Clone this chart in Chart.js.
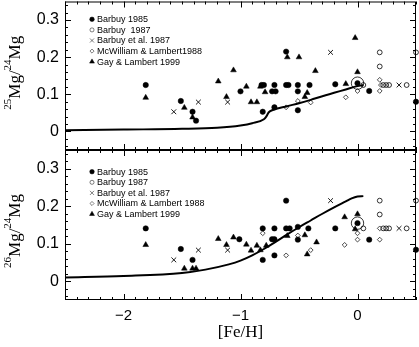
<!DOCTYPE html>
<html>
<head>
<meta charset="utf-8">
<script src="https://cdn.jsdelivr.net/npm/chart.js@4.4.1/dist/chart.umd.min.js"></script>
<style>
  html, body { margin: 0; padding: 0; background: #fff; }
  #wrap { position: relative; width: 419px; height: 347px; overflow: hidden; }
  #wrap canvas { position: absolute; left: 0; }
  #c25 { top: 0; }
  #c26 { top: 148px; }
</style>
</head>
<body>
<div id="wrap">
  <canvas id="c25" width="419" height="152"></canvas>
  <canvas id="c26" width="419" height="199"></canvas>
</div>
<script>
// x ticks ([Fe/H]) and y ticks (ratio)
const feTicks = [-2, -1, 0];
const ratioTicks = [0, 0.1, 0.2, 0.3];

// ---- top panel: 25Mg/24Mg ----
const b85Fe25 = [-1.81, -1.51, -1.41, -1.38, -1.00, -0.82, -0.80, -0.81, -0.73, -0.71, -0.70, -0.71, -0.61, -0.59, -0.61, -0.51, -0.51, -0.51, -0.41, -0.19, 0.10, 0.50];
const b85R25  = [0.125, 0.082, 0.053, 0.029, 0.108, 0.125, 0.125, 0.053, 0.108, 0.125, 0.108, 0.065, 0.125, 0.125, 0.215, 0.125, 0.108, 0.057, 0.125, 0.127, 0.109, 0.080];
const b87Fe25 = [0.05, 0.19, 0.19, 0.22, 0.245, 0.27, 0.42, 0.50];
const b87R25  = [0.125, 0.213, 0.175, 0.125, 0.125, 0.125, 0.125, 0.213];
const bx87Fe25 = [-1.57, -1.36, -1.11, -0.23, 0.355];
const bx87R25  = [0.053, 0.079, 0.079, 0.213, 0.125];
const mwFe25 = [-0.61, -0.51, -0.40, -0.10, 0.0, 0.19, 0.19, 0.20];
const mwR25  = [0.065, 0.082, 0.078, 0.092, 0.109, 0.109, 0.139, 0.125];
const glFe25 = [-1.81, -1.48, -1.41, -1.19, -1.12, -1.06, -0.95, -0.91, -0.86, -0.83, -0.79, -0.60, -0.50, -0.45, -0.43, -0.36, -0.10, -0.02, 0.0];
const glR25  = [0.091, 0.064, 0.038, 0.135, 0.093, 0.165, 0.121, 0.079, 0.079, 0.121, 0.106, 0.200, 0.200, 0.093, 0.104, 0.163, 0.128, 0.252, 0.160];
const modelFe25 = [-2.5, -2.0, -1.5, -1.2, -1.0, -0.9, -0.8, -0.78, -0.76, -0.73, -0.6, -0.5, -0.4, -0.3, -0.2, -0.1, 0.0, 0.05];
const model25   = [0.003, 0.005, 0.007, 0.010, 0.016, 0.022, 0.033, 0.040, 0.051, 0.057, 0.068, 0.076, 0.085, 0.095, 0.104, 0.113, 0.122, 0.125];

// ---- bottom panel: 26Mg/24Mg ----
const b85Fe26 = [-1.81, -1.51, -1.41, -1.01, -0.81, -0.81, -0.73, -0.71, -0.71, -0.71, -0.61, -0.61, -0.58, -0.51, -0.51, -0.42, -0.19, 0.10, 0.50];
const b85R26  = [0.141, 0.086, 0.057, 0.112, 0.141, 0.057, 0.112, 0.112, 0.141, 0.069, 0.215, 0.141, 0.141, 0.145, 0.111, 0.141, 0.141, 0.111, 0.084];
const b87Fe26 = [0.05, 0.19, 0.19, 0.22, 0.245, 0.27, 0.42, 0.50];
const b87R26  = [0.141, 0.215, 0.178, 0.141, 0.141, 0.141, 0.141, 0.215];
const bx87Fe26 = [-1.57, -1.36, -1.11, -0.23, 0.355];
const bx87R26  = [0.057, 0.083, 0.083, 0.215, 0.141];
const mwFe26 = [-0.81, -0.61, -0.51, -0.40, -0.11, 0.0, 0.0, 0.19, 0.19];
const mwR26  = [0.128, 0.069, 0.122, 0.083, 0.097, 0.128, 0.111, 0.111, 0.141];
const glFe26 = [-1.81, -1.48, -1.41, -1.38, -1.19, -1.12, -1.06, -0.95, -0.91, -0.86, -0.83, -0.78, -0.60, -0.45, -0.43, -0.35, -0.11, -0.02, 0.0];
const glR26  = [0.097, 0.034, 0.034, 0.034, 0.113, 0.097, 0.117, 0.098, 0.082, 0.095, 0.083, 0.095, 0.121, 0.123, 0.072, 0.104, 0.171, 0.139, 0.179];
const modelFe26 = [-2.5, -2.0, -1.5, -1.3, -1.1, -1.0, -0.9, -0.8, -0.7, -0.6, -0.5, -0.4, -0.3, -0.2, -0.1, -0.05, 0.0, 0.05];
const model26   = [0.010, 0.014, 0.022, 0.031, 0.045, 0.055, 0.069, 0.086, 0.105, 0.125, 0.144, 0.162, 0.180, 0.197, 0.213, 0.221, 0.226, 0.227];

// the Sun
const sunFe = [0.0];
const sunR25 = [0.13];
const sunR26 = [0.155];

Chart.defaults.font.family = '"Liberation Sans", Arial, sans-serif';
Chart.defaults.color = '#000';

const pts = (xs, ys) => xs.map((x, i) => ({ x, y: ys[i] }));

const styles = {
  b85: { pointStyle: 'circle', pointRadius: 2.7, pointBackgroundColor: '#000', pointBorderColor: '#000', pointBorderWidth: 0.5 },
  b87: { pointStyle: 'circle', pointRadius: 2.4, pointBackgroundColor: 'rgba(0,0,0,0)', pointBorderColor: '#000', pointBorderWidth: 0.8 },
  bx87: { pointStyle: 'crossRot', pointRadius: 3.4, pointBorderColor: '#000', pointBorderWidth: 0.9 },
  mw: { pointStyle: 'rectRot', pointRadius: 2.4, pointBackgroundColor: 'rgba(0,0,0,0)', pointBorderColor: '#000', pointBorderWidth: 0.7 },
  gl: { pointStyle: 'triangle', pointRadius: 3.3, pointBackgroundColor: '#000', pointBorderColor: '#000', pointBorderWidth: 0.5 }
};

// box + inward ticks on all four sides
const frame = {
  id: 'frame',
  afterDraw(chart) {
    const { ctx, chartArea: a, scales: { x, y } } = chart;
    ctx.save();
    ctx.strokeStyle = '#000';
    ctx.lineWidth = 1;
    ctx.strokeRect(a.left + 0.5, a.top + 0.5, a.right - a.left - 1, a.bottom - a.top - 1);
    ctx.beginPath();
    for (let i = -25; i <= 5; i++) {
      const px = Math.round(x.getPixelForValue(i / 10)) + 0.5;
      const len = i % 10 === 0 ? 6 : 3;
      ctx.moveTo(px, a.bottom); ctx.lineTo(px, a.bottom - len);
      ctx.moveTo(px, a.top); ctx.lineTo(px, a.top + len);
    }
    for (let i = -2; i <= 17; i++) {
      const py = Math.round(y.getPixelForValue(i * 0.02)) + 0.5;
      const len = i % 5 === 0 ? 6 : 3;
      ctx.moveTo(a.left, py); ctx.lineTo(a.left + len, py);
      ctx.moveTo(a.right, py); ctx.lineTo(a.right - len, py);
    }
    ctx.stroke();
    ctx.restore();
  }
};

// legend inside the plot, top-left
const inLegend = {
  id: 'inLegend',
  afterDraw(chart, args, o) {
    const { ctx, chartArea: a } = chart;
    ctx.save();
    ctx.font = '9px "Liberation Sans", Arial, sans-serif';
    ctx.textBaseline = 'middle';
    ctx.fillStyle = '#000';
    let row = 0;
    chart.data.datasets.forEach(ds => {
      if (!ds.inLegend) return;
      const yy = a.top + o.top + row * o.step;
      const mx = a.left + o.mx;
      ctx.strokeStyle = '#000';
      ctx.fillStyle = ds.pointBackgroundColor || '#000';
      Chart.helpers.drawPoint(ctx, {
        pointStyle: ds.pointStyle, radius: ds.pointRadius * 0.85, rotation: 0, borderWidth: ds.pointBorderWidth
      }, mx, yy);
      ctx.fillStyle = '#000';
      ctx.fillText(ds.label, a.left + o.tx, yy + 0.5);
      row++;
    });
    ctx.restore();
  }
};

// rotated y title with superscript mass numbers
const yTitle = {
  id: 'yTitle',
  afterDraw(chart, args, o) {
    const { ctx, chartArea: a } = chart;
    const parts = [[o.iso, true], ['Mg', false], ['/', false], ['24', true], ['Mg', false]];
    const big = '17px "Liberation Serif", "Times New Roman", serif';
    const small = '11px "Liberation Serif", "Times New Roman", serif';
    ctx.save();
    let w = 0;
    parts.forEach(([t, sup]) => { ctx.font = sup ? small : big; w += ctx.measureText(t).width; });
    ctx.translate(15, (a.top + a.bottom) / 2 + o.dy);
    ctx.rotate(-Math.PI / 2);
    ctx.fillStyle = '#000';
    ctx.textBaseline = 'alphabetic';
    let cx = -w / 2;
    parts.forEach(([t, sup]) => {
      ctx.font = sup ? small : big;
      ctx.fillText(t, cx, sup ? -4 : 5);
      cx += ctx.measureText(t).width;
    });
    ctx.restore();
  }
};

function makeChart(id, d, opts) {
  const datasets = [
    { label: 'Barbuy 1985', data: pts(d.b85[0], d.b85[1]), inLegend: true, ...styles.b85 },
    { label: d.b87lab, data: pts(d.b87[0], d.b87[1]), inLegend: true, ...styles.b87 },
    { label: 'Barbuy et al. 1987', data: pts(d.bx87[0], d.bx87[1]), inLegend: true, ...styles.bx87 },
    { label: d.mwlab, data: pts(d.mw[0], d.mw[1]), inLegend: true, ...styles.mw },
    { label: 'Gay & Lambert 1999', data: pts(d.gl[0], d.gl[1]), inLegend: true, ...styles.gl },
    { label: 'Sun', data: pts(sunFe, d.sun), pointStyle: 'circle', pointRadius: 6.2, pointBackgroundColor: 'rgba(0,0,0,0)', pointBorderColor: '#000', pointBorderWidth: 0.8 },
    { label: 'Sun dot', data: pts(sunFe, d.sun), ...styles.b85 },
    { label: 'model', type: 'line', data: pts(d.model[0], d.model[1]), showLine: true, borderColor: '#000', borderWidth: 2,
      pointRadius: 0, cubicInterpolationMode: 'monotone', fill: false }
  ];
  return new Chart(document.getElementById(id), {
    type: 'scatter',
    data: { datasets },
    options: {
      responsive: false,
      animation: false,
      devicePixelRatio: 1,
      events: [],
      clip: false,
      layout: { padding: opts.padding, autoPadding: false },
      plugins: {
        legend: { display: false },
        tooltip: { enabled: false },
        inLegend: { top: opts.legTop, step: 10.6, mx: 27, tx: 32 },
        yTitle: { iso: d.iso, dy: opts.titleDy }
      },
      scales: {
        x: {
          type: 'linear', min: -2.5, max: 0.5,
          display: opts.showX,
          afterBuildTicks: s => { s.ticks = feTicks.map(v => ({ value: v })); },
          afterFit: s => { s.height = opts.xHeight; s.paddingLeft = 0; s.paddingRight = 0; },
          grid: { display: false, drawTicks: false },
          border: { display: false },
          ticks: {
            padding: 7,
            font: { size: 15 },
            callback: v => (v < 0 ? '\u2212' + Math.abs(v) : String(v))
          },
          title: {
            display: opts.showX, text: '[Fe/H]',
            font: { family: '"Liberation Serif", "Times New Roman", serif', size: 17 },
            padding: { top: 0, bottom: 4 }
          }
        },
        y: {
          type: 'linear', min: -0.05, max: 0.35,
          afterBuildTicks: s => { s.ticks = ratioTicks.map(v => ({ value: v })); },
          afterFit: s => { s.width = 65; s.paddingTop = 0; s.paddingBottom = 0; },
          grid: { display: false, drawTicks: false },
          border: { display: false },
          ticks: { padding: 6, font: { size: 16 }, callback: v => String(v) }
        }
      }
    },
    plugins: [frame, inLegend, yTitle]
  });
}

makeChart('c25', {
  b85: [b85Fe25, b85R25], b87: [b87Fe25, b87R25], bx87: [bx87Fe25, bx87R25],
  mw: [mwFe25, mwR25], gl: [glFe25, glR25], model: [modelFe25, model25], sun: sunR25,
  b87lab: 'Barbuy  1987', mwlab: 'McWilliam & Lambert1988', iso: '25'
}, { padding: { top: 1.5, bottom: 2, left: 0, right: 3 }, showX: false, xHeight: 0, legTop: 17.8, titleDy: -3 });

makeChart('c26', {
  b85: [b85Fe26, b85R26], b87: [b87Fe26, b87R26], bx87: [bx87Fe26, bx87R26],
  mw: [mwFe26, mwR26], gl: [glFe26, glR26], model: [modelFe26, model26], sun: sunR26,
  b87lab: 'Barbuy 1987', mwlab: 'McWilliam & Lambert 1988', iso: '26'
}, { padding: { top: 2, bottom: 0, left: 0, right: 3 }, showX: true, xHeight: 47, legTop: 21.7, titleDy: 6 });
</script>
</body>
</html>
